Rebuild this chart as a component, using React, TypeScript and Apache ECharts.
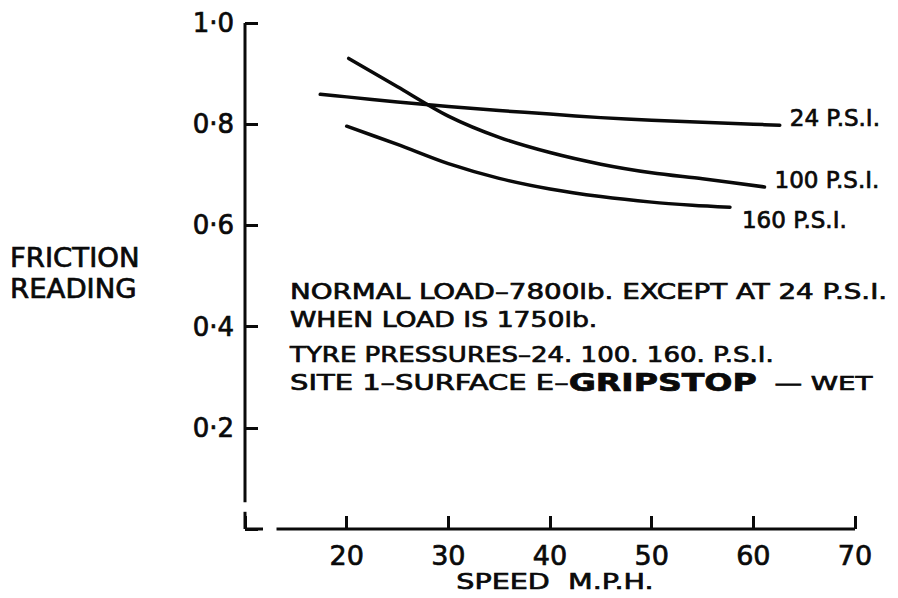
import React, { useEffect, useRef } from "react";
import * as echarts from "echarts";

// ---- data ----
const speedMin = 10;
const speedMax = 70;
const speedStep = 10;
const frictionMin = 0;
const frictionMax = 1;
const frictionStep = 0.2;

const psi24Speed = [17.4, 20, 25, 30, 35, 40, 45, 50, 55, 60, 62.6];
const psi24Friction = [0.859, 0.854, 0.844, 0.835, 0.827, 0.82, 0.813, 0.808, 0.804, 0.8, 0.798];

const psi100Speed = [20.2, 25, 30, 35, 40, 45, 50, 55, 61.1];
const psi100Friction = [0.93, 0.874, 0.816, 0.774, 0.744, 0.721, 0.704, 0.692, 0.676];

const psi160Speed = [20.0, 25, 30, 35, 40, 45, 50, 54, 57.7];
const psi160Friction = [0.796, 0.76, 0.722, 0.693, 0.672, 0.657, 0.646, 0.64, 0.636];

const seriesNames = ["24 P.S.I.", "100 P.S.I.", "160 P.S.I."];

const yAxisTitle = ["FRICTION", "READING"];
const xAxisTitle = "SPEED  M.P.H.";
const noteLines = [
  "NORMAL LOAD–7800lb. EXCEPT AT 24 P.S.I.",
  "WHEN LOAD IS 1750lb.",
  "TYRE PRESSURES–24. 100. 160. P.S.I.",
];
const noteSite = ["SITE 1–SURFACE E–", "GRIPSTOP", "  — WET"];

// axis drawing breaks (data space)
const yLineEnd = 0.053;
const cornerTop = 0.034;
const cornerRight = 11.77;
const xLineStart = 13.1;

const INK = "#0a0a0a";
const FONT = "DejaVu Sans";
const HEAVY = 0.7;

function pairs(xs: number[], ys: number[]) {
  return xs.map((x, i) => [x, ys[i]]);
}

export default function App() {
  const ref = useRef<HTMLDivElement>(null);

  useEffect(() => {
    const chart = echarts.init(ref.current!, null, { renderer: "svg" });
    const lineSeries = (name: string, data: number[][]) => ({
      name,
      type: "line",
      data,
      smooth: 0.3,
      showSymbol: false,
      symbol: "none",
      lineStyle: { color: INK, width: 3.5, cap: "round", join: "round" },
      z: 5,
    });
    const labelCommon = {
      color: INK,
      fontFamily: FONT,
      textBorderColor: INK,
      textBorderWidth: HEAVY,
    };
    chart.setOption({
      animation: false,
      backgroundColor: "#ffffff",
      grid: { left: 245, right: 43, top: 23, bottom: 69, containLabel: false, outerBoundsMode: "none" },
      xAxis: {
        type: "value",
        min: speedMin,
        max: speedMax,
        interval: speedStep,
        axisLine: { show: false },
        axisTick: { show: true, inside: true, length: 13, lineStyle: { color: INK, width: 3 } },
        splitLine: { show: false },
        axisLabel: {
          ...labelCommon,
          margin: 13,
          fontSize: 27,
          formatter: (v: number) => (v === speedMin ? "" : String(v)),
        },
      },
      yAxis: {
        type: "value",
        min: frictionMin,
        max: frictionMax,
        interval: frictionStep,
        axisLine: { show: false },
        axisTick: { show: true, inside: true, length: 13, lineStyle: { color: INK, width: 3 } },
        splitLine: { show: false },
        axisLabel: {
          ...labelCommon,
          margin: 11,
          fontSize: 26,
          formatter: (v: number) => (v === 0 ? "" : v.toFixed(1).replace(".", "·")),
        },
      },
      series: [
        lineSeries(seriesNames[0], pairs(psi24Speed, psi24Friction)),
        lineSeries(seriesNames[1], pairs(psi100Speed, psi100Friction)),
        lineSeries(seriesNames[2], pairs(psi160Speed, psi160Friction)),
      ],
    });

    const px = (x: number, y: number) => chart.convertToPixel({ gridIndex: 0 }, [x, y]) as number[];
    const seg = (a: number[], b: number[]) => ({
      type: "line",
      shape: { x1: a[0], y1: a[1], x2: b[0], y2: b[1] },
      style: { stroke: INK, lineWidth: 3, lineCap: "butt" },
      z: 10,
    });
    const txt = (text: string, x: number, y: number, size: number, align: string, sx = 1) => ({
      type: "text",
      x,
      y,
      scaleX: sx,
      z: 10,
      style: {
        text,
        fill: INK,
        stroke: INK,
        lineWidth: HEAVY,
        fontFamily: FONT,
        fontSize: size,
        textAlign: align,
        textVerticalAlign: "middle",
      },
    });

    const endOf = (xs: number[], ys: number[]) => px(xs[xs.length - 1], ys[ys.length - 1]);
    const e24 = endOf(psi24Speed, psi24Friction);
    const e100 = endOf(psi100Speed, psi100Friction);
    const e160 = endOf(psi160Speed, psi160Friction);

    chart.setOption({
      graphic: [
        seg(px(speedMin, frictionMax), px(speedMin, yLineEnd)),
        seg(px(speedMin, cornerTop), px(speedMin, frictionMin)),
        seg(px(speedMin, frictionMin), px(cornerRight, frictionMin)),
        seg(px(xLineStart, frictionMin), px(speedMax, frictionMin)),
        txt(yAxisTitle[0], 10, 258, 26, "left", 1.06),
        txt(yAxisTitle[1], 10, 289, 26, "left", 1.06),
        txt(xAxisTitle, 555, 581, 22, "center", 1.3),
        txt(seriesNames[0], e24[0] + 10, e24[1] - 7, 23, "left"),
        txt(seriesNames[1], e100[0] + 10, e100[1] - 7, 23, "left"),
        txt(seriesNames[2], e160[0] + 12, e160[1] + 13, 23, "left"),
        txt(noteLines[0], 290, 292, 21, "left", 1.32),
        txt(noteLines[1], 290, 320, 21, "left", 1.27),
        txt(noteLines[2], 290, 355, 21, "left", 1.24),
        {
          type: "text",
          x: 290,
          y: 383,
          scaleX: 1.38,
          z: 10,
          style: {
            text: `{n|${noteSite[0]}}{g|${noteSite[1]}}{w|${noteSite[2]}}`,
            fill: INK,
            stroke: INK,
            lineWidth: HEAVY,
            fontFamily: FONT,
            fontSize: 21,
            textAlign: "left",
            textVerticalAlign: "middle",
            rich: {
              n: { fontSize: 21, fontFamily: FONT },
              g: { fontSize: 24, fontFamily: FONT, fontWeight: "bold" },
              w: { fontSize: 20, fontFamily: FONT },
            },
          },
        },
      ],
    });

    return () => chart.dispose();
  }, []);

  return (
    <div
      ref={ref}
      style={{ position: "fixed", left: 0, top: 0, width: 898, height: 598, background: "#ffffff" }}
    />
  );
}
